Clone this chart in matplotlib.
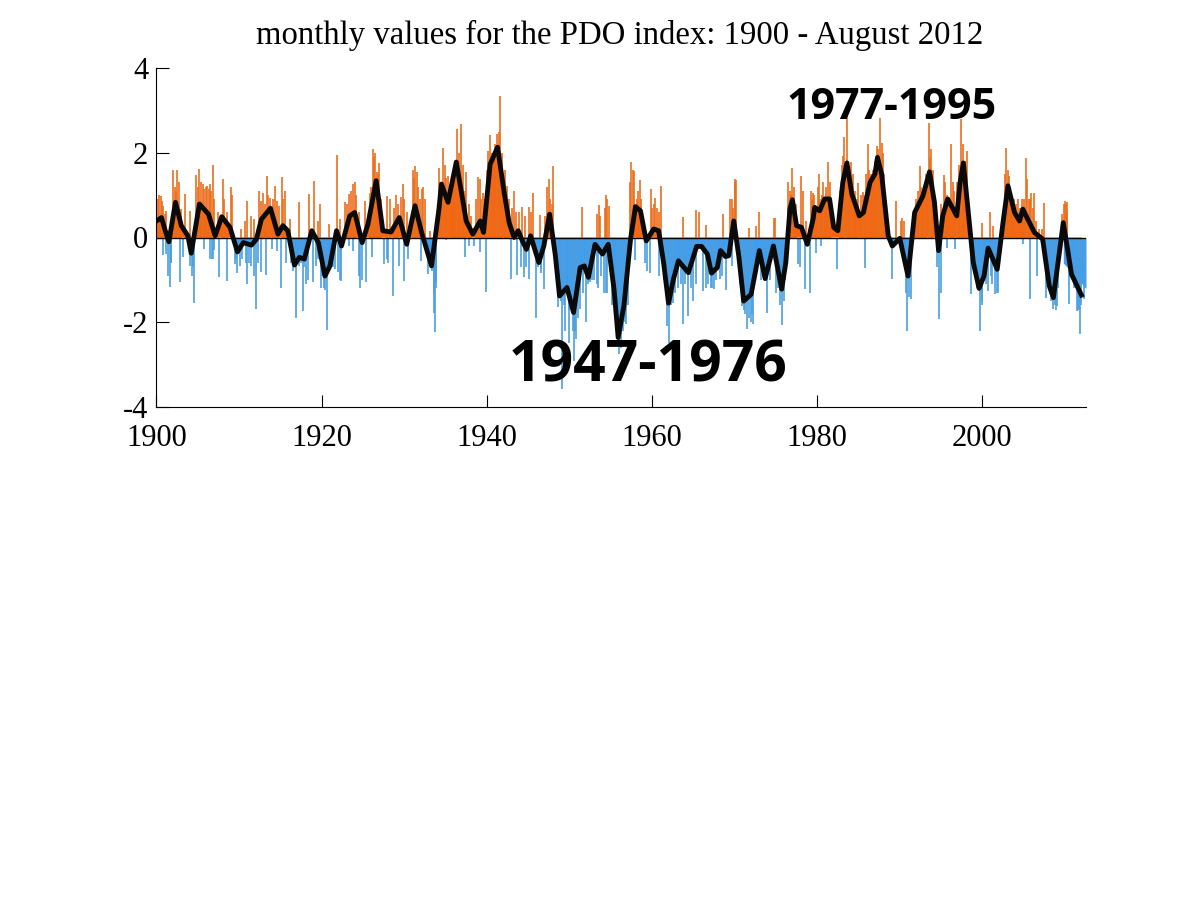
#!/usr/bin/env python3

import matplotlib.pyplot as plt
import numpy as np

plt.rcParams['font.family'] = ['Liberation Serif', 'DejaVu Serif']

# smoothed index
smooth_years = [1900.0, 1900.6, 1901.0, 1901.5, 1902.3, 1903.0, 1903.8, 1904.2, 1905.2, 1906.3, 1907.1, 1907.9,
                1908.9, 1909.8, 1910.5, 1911.5, 1912.1, 1912.7, 1913.8, 1914.7, 1915.3, 1915.9, 1916.7, 1917.3,
                1917.9, 1918.8, 1919.6, 1920.4, 1921.0, 1921.8, 1922.4, 1923.4, 1924.0, 1924.9, 1925.6, 1926.6,
                1927.4, 1928.4, 1929.4, 1930.3, 1931.3, 1932.1, 1933.3, 1934.2, 1934.5, 1935.3, 1936.3, 1937.2,
                1937.5, 1938.3, 1939.2, 1939.6, 1940.4, 1941.3, 1942.1, 1942.7, 1943.3, 1943.8, 1944.3, 1944.8,
                1945.3, 1946.3, 1946.9, 1947.6, 1948.3, 1948.8, 1949.7, 1950.5, 1951.3, 1951.8, 1952.3, 1953.1,
                1954.0, 1954.7, 1955.4, 1955.9, 1956.6, 1957.4, 1958.0, 1958.6, 1959.3, 1960.2, 1960.8, 1961.4,
                1962.0, 1962.6, 1963.2, 1964.4, 1965.4, 1966.0, 1966.7, 1967.2, 1967.9, 1968.3, 1968.9, 1969.3,
                1969.9, 1970.5, 1971.1, 1972.0, 1973.0, 1973.7, 1974.7, 1975.7, 1976.2, 1976.7, 1977.0, 1977.5,
                1978.1, 1978.8, 1979.5, 1979.7, 1980.3, 1980.9, 1981.5, 1982.0, 1982.5, 1983.1, 1983.6, 1984.2,
                1985.1, 1985.6, 1986.4, 1987.0, 1987.3, 1987.8, 1988.6, 1989.1, 1990.0, 1991.0, 1991.8, 1992.8,
                1993.6, 1994.2, 1994.7, 1995.2, 1995.8, 1996.9, 1997.3, 1997.7, 1998.3, 1998.9, 1999.6, 2000.2,
                2000.7, 2001.8, 2002.5, 2003.1, 2003.9, 2004.5, 2004.9, 2005.5, 2006.3, 2007.3, 2008.1, 2008.6,
                2009.8, 2010.8, 2012.0]
smooth_vals = [0.39, 0.47, 0.20, -0.10, 0.83, 0.28, 0.04, -0.37, 0.79, 0.55, 0.04, 0.49,
               0.24, -0.34, -0.12, -0.18, -0.04, 0.43, 0.69, 0.08, 0.28, 0.16, -0.65, -0.47,
               -0.51, 0.16, -0.12, -0.91, -0.67, 0.16, -0.20, 0.51, 0.59, -0.12, 0.31, 1.34,
               0.16, 0.13, 0.47, -0.16, 0.75, 0.12, -0.67, 0.67, 1.26, 0.83, 1.78, 0.75,
               0.39, 0.08, 0.39, 0.12, 1.73, 2.13, 1.06, 0.35, 0.0, 0.16, -0.08, -0.28,
               0.04, -0.59, -0.20, 0.55, -0.43, -1.38, -1.18, -1.77, -0.71, -0.67, -0.94, -0.16,
               -0.39, -0.16, -1.22, -2.36, -1.61, -0.04, 0.73, 0.63, -0.08, 0.20, 0.16, -0.59,
               -1.55, -0.98, -0.55, -0.83, -0.21, -0.21, -0.39, -0.84, -0.71, -0.31, -0.45, -0.43,
               0.39, -0.43, -1.50, -1.34, -0.31, -0.97, -0.20, -1.22, -0.59, 0.67, 0.89, 0.28,
               0.24, -0.16, 0.43, 0.71, 0.63, 0.91, 0.91, 0.24, 0.16, 1.30, 1.76, 1.02,
               0.51, 0.59, 1.30, 1.50, 1.89, 1.50, 0.04, -0.20, -0.02, -0.91, 0.59, 0.98,
               1.55, 0.83, -0.31, 0.51, 0.91, 0.51, 1.30, 1.76, 0.59, -0.59, -1.20, -0.91,
               -0.25, -0.75, 0.35, 1.22, 0.59, 0.39, 0.67, 0.43, 0.12, -0.04, -1.14, -1.42,
               0.35, -0.87, -1.36]

# tall monthly spikes above zero
pos_years = [1900.0, 1900.5, 1900.8, 1901.2, 1902.0, 1902.5, 1903.0, 1903.5, 1904.0, 1904.8, 1905.2, 1905.6,
             1906.1, 1906.5, 1906.8, 1907.5, 1908.0, 1908.5, 1909.0, 1910.2, 1910.7, 1910.9, 1911.5, 1911.8,
             1912.4, 1912.9, 1913.4, 1913.7, 1914.3, 1914.8, 1915.2, 1915.5, 1916.2, 1917.3, 1918.5, 1919.1,
             1919.6, 1919.8, 1920.9, 1921.8, 1922.2, 1922.8, 1923.3, 1923.8, 1924.0, 1924.5, 1925.3, 1925.9,
             1926.2, 1926.5, 1927.0, 1927.9, 1928.3, 1929.0, 1929.8, 1930.3, 1931.0, 1931.3, 1931.5, 1932.1,
             1932.3, 1933.1, 1934.2, 1934.7, 1935.3, 1936.4, 1936.9, 1937.5, 1937.8, 1938.95, 1939.2, 1939.5,
             1940.2, 1940.4, 1941.25, 1941.65, 1942.5, 1943.3, 1943.9, 1944.3, 1945.15, 1945.55, 1946.4, 1947.3,
             1947.5, 1948.0, 1951.5, 1953.35, 1953.55, 1954.4, 1954.8, 1957.5, 1957.8, 1958.5, 1959.9, 1960.4,
             1961.1, 1963.7, 1965.3, 1965.7, 1966.5, 1968.6, 1969.5, 1970.0, 1970.2, 1971.7, 1972.6, 1972.9,
             1974.8, 1974.9, 1976.5, 1977.0, 1978.1, 1979.2, 1979.5, 1980.2, 1980.7, 1981.3, 1983.1, 1983.3,
             1983.55, 1984.1, 1985.0, 1985.5, 1986.1, 1987.2, 1987.6, 1987.8, 1989.5, 1990.3, 1992.4, 1993.0,
             1993.5, 1993.8, 1995.3, 1996.25, 1996.9, 1997.45, 1998.15, 2000.0, 2000.9, 2001.3, 2002.9, 2003.2,
             2004.3, 2005.25, 2005.4, 2005.9, 2006.3, 2007.5, 2009.6, 2010.0, 2010.2]
pos_vals = [1.34, 0.98, 0.75, 0.63, 1.59, 1.59, 0.67, 1.02, 0.63, 1.47, 1.61, 1.26,
            1.22, 1.26, 1.71, 0.59, 1.38, 0.59, 1.18, 0.20, 0.39, 0.87, 0.51, 0.43,
            1.10, 1.05, 1.46, 0.94, 1.22, 0.75, 1.43, 1.10, 0.43, 0.84, 1.02, 1.34,
            0.39, 0.79, 0.31, 1.94, 0.43, 0.84, 1.02, 1.26, 1.30, 0.59, 0.87, 1.06,
            2.10, 2.00, 1.76, 0.98, 0.91, 1.00, 1.26, 0.59, 1.60, 1.69, 1.54, 1.14,
            1.18, 0.16, 1.65, 2.11, 1.46, 2.57, 2.68, 1.55, 0.79, 1.42, 1.38, 1.06,
            2.05, 2.42, 2.44, 3.35, 1.22, 1.09, 0.59, 0.73, 0.73, 1.05, 0.53, 1.18,
            1.38, 1.69, 0.71, 0.55, 0.76, 1.00, 0.75, 1.77, 1.57, 1.35, 1.14, 0.93,
            1.22, 0.49, 0.65, 0.61, 0.29, 0.55, 0.91, 1.39, 1.36, 0.22, 0.26, 0.59,
            0.46, 0.46, 1.30, 1.65, 1.46, 1.10, 1.06, 1.50, 1.30, 1.77, 1.93, 2.36,
            2.95, 1.77, 1.28, 1.08, 2.20, 2.17, 2.83, 2.24, 0.85, 0.45, 1.69, 1.30,
            2.70, 2.09, 1.47, 2.20, 1.30, 2.80, 2.03, 0.35, 0.61, 0.28, 2.11, 1.46,
            0.91, 1.87, 1.38, 1.04, 1.06, 0.81, 0.55, 0.85, 0.83]

# tall monthly spikes below zero
neg_years = [1900.8, 1901.6, 1901.8, 1902.9, 1903.2, 1904.1, 1904.5, 1905.8, 1906.5, 1906.9, 1907.6, 1908.5,
             1909.5, 1909.7, 1910.1, 1910.8, 1911.0, 1911.5, 1912.0, 1912.6, 1913.2, 1914.0, 1914.6, 1915.1,
             1915.7, 1916.5, 1916.9, 1917.2, 1917.7, 1918.1, 1918.9, 1919.3, 1919.9, 1920.6, 1921.6, 1922.0,
             1922.4, 1923.3, 1923.8, 1924.7, 1925.4, 1926.1, 1927.6, 1928.6, 1929.4, 1930.0, 1930.4, 1932.0,
             1932.9, 1933.6, 1933.7, 1933.9, 1935.1, 1937.3, 1937.8, 1938.4, 1939.2, 1939.85, 1942.95, 1943.7,
             1944.5, 1945.1, 1945.9, 1946.5, 1946.9, 1948.6, 1949.1, 1949.5, 1950.0, 1950.6, 1950.85, 1951.3,
             1952.0, 1952.5, 1953.3, 1954.2, 1955.0, 1956.0, 1956.9, 1958.0, 1959.2, 1959.7, 1960.8, 1961.8,
             1962.0, 1962.6, 1963.8, 1964.4, 1965.0, 1966.2, 1967.5, 1968.2, 1969.0, 1969.7, 1970.9, 1971.5,
             1972.2, 1973.9, 1975.0, 1975.8, 1977.7, 1977.9, 1978.5, 1979.1, 1979.9, 1980.5, 1982.4, 1985.8,
             1989.0, 1990.9, 1991.4, 1994.8, 1995.7, 1996.7, 1998.6, 1999.75, 2000.7, 2001.5, 2001.8, 2004.9,
             2005.8, 2006.6, 2007.7, 2008.5, 2009.0, 2010.5, 2011.4, 2011.85, 2012.3]
neg_vals = [-0.42, -1.16, -0.59, -1.06, -0.47, -0.67, -1.54, -0.28, -0.51, -0.50, -0.94, -1.02,
            -0.63, -0.84, -0.67, -0.59, -1.10, -0.67, -1.68, -0.81, -0.89, -0.28, -0.31, -1.20,
            -0.59, -0.79, -1.91, -0.67, -1.73, -1.10, -1.05, -0.67, -1.18, -2.18, -0.75, -0.81,
            -1.02, -0.20, -0.31, -1.20, -1.05, -0.47, -0.63, -1.38, -0.67, -1.02, -0.51, -0.55,
            -0.87, -1.77, -2.24, -1.06, -0.06, -0.45, -0.20, -0.20, -0.35, -1.28, -0.98, -0.89,
            -0.94, -0.98, -1.91, -0.83, -1.22, -1.65, -3.57, -2.20, -2.48, -2.91, -2.40, -1.69,
            -1.99, -1.06, -1.10, -1.30, -0.59, -2.76, -2.05, -0.53, -0.59, -0.83, -0.91, -2.08,
            -2.48, -1.54, -2.05, -1.85, -1.50, -1.26, -1.22, -0.98, -1.24, -0.67, -1.61, -2.17,
            -2.05, -1.77, -1.30, -2.07, -0.63, -0.69, -1.22, -1.30, -0.37, -0.20, -0.75, -0.73,
            -0.98, -2.20, -1.45, -1.93, -0.24, -0.28, -1.34, -2.20, -1.26, -1.34, -1.30, -0.16,
            -1.46, -0.91, -1.42, -1.69, -1.61, -1.57, -1.73, -2.28, -1.45]

# shorter bars packed between the tall ones
pos_dense_years = [1900.2, 1900.35, 1900.65, 1901.0, 1902.2, 1902.35, 1902.7, 1902.85, 1905.0, 1905.4, 1905.75,
                   1905.95, 1906.3, 1906.65, 1907.0, 1908.2, 1909.15, 1912.6, 1913.1, 1913.55, 1914.05, 1914.55,
                   1915.35, 1923.1, 1923.55, 1924.2, 1926.0, 1926.35, 1926.7, 1926.85, 1927.2, 1928.7, 1929.2,
                   1929.6, 1930.0, 1931.15, 1931.7, 1931.85, 1932.5, 1934.4, 1934.9, 1935.1, 1935.6, 1935.9,
                   1936.1, 1936.65, 1937.1, 1937.3, 1938.1, 1938.7, 1939.35, 1939.8, 1940.0, 1940.6, 1940.8,
                   1941.0, 1941.45, 1941.85, 1942.2, 1942.7, 1943.1, 1943.5, 1944.6, 1945.35, 1947.1, 1947.7,
                   1947.85, 1953.7, 1954.25, 1954.55, 1957.35, 1957.65, 1958.2, 1958.35, 1958.7, 1960.0, 1960.25,
                   1960.6, 1960.9, 1969.7, 1969.85, 1970.1, 1976.7, 1976.8, 1977.2, 1977.4, 1978.3, 1978.7,
                   1979.35, 1979.65, 1979.9, 1980.05, 1980.4, 1980.55, 1980.9, 1981.05, 1981.5, 1982.8, 1983.0,
                   1983.7, 1983.9, 1984.3, 1984.55, 1984.8, 1985.3, 1985.7, 1985.9, 1986.3, 1986.5, 1986.75,
                   1987.05, 1987.4, 1987.95, 1988.1, 1988.3, 1990.1, 1990.5, 1992.0, 1992.2, 1992.6, 1992.8,
                   1993.2, 1993.65, 1994.0, 1995.05, 1995.5, 1995.7, 1996.05, 1996.4, 1996.6, 1997.15, 1997.65,
                   1997.85, 1998.0, 2002.7, 2003.05, 2003.4, 2003.6, 2003.8, 2004.1, 2004.6, 2004.8, 2005.1,
                   2005.6, 2005.75, 2006.1, 2006.5, 2006.9, 2007.2, 2009.9, 2010.1, 2010.3]
pos_dense_vals = [0.9, 1.0, 0.85, 0.55, 1.2, 1.1, 1.3, 0.6, 1.2, 1.3, 1.15,
                  1.2, 1.15, 1.1, 0.9, 0.9, 1.0, 0.85, 0.8, 1.0, 0.9, 0.85,
                  0.9, 0.8, 1.1, 1.0, 1.2, 1.9, 1.55, 1.5, 0.9, 0.7, 0.8,
                  0.95, 0.9, 1.4, 1.2, 0.9, 0.9, 1.3, 1.7, 1.4, 1.1, 1.4,
                  1.8, 2.0, 1.7, 1.1, 0.5, 0.9, 0.9, 0.9, 1.6, 2.0, 1.6,
                  2.2, 2.5, 2.0, 1.6, 0.9, 0.7, 0.6, 0.5, 0.6, 0.5, 0.9,
                  0.8, 0.5, 0.7, 0.9, 1.3, 1.6, 0.9, 1.1, 0.9, 0.7, 0.8,
                  0.7, 0.6, 0.9, 0.7, 1.3, 1.1, 1.0, 1.2, 0.8, 1.1, 0.4,
                  0.9, 1.0, 0.7, 1.2, 0.9, 1.0, 0.9, 1.2, 1.3, 1.1, 1.7,
                  1.8, 1.6, 1.5, 1.1, 0.9, 1.0, 1.0, 1.5, 1.6, 1.5, 1.6,
                  1.8, 2.1, 2.0, 1.5, 0.8, 0.4, 0.4, 0.9, 1.1, 1.2, 1.1,
                  1.5, 1.9, 1.6, 0.8, 1.3, 1.0, 0.9, 1.3, 1.1, 1.7, 2.2,
                  1.8, 1.4, 1.5, 1.6, 1.2, 0.8, 0.9, 0.8, 0.7, 0.9, 0.9,
                  0.9, 0.9, 0.7, 0.4, 0.2, 0.2, 0.8, 0.8, 0.6]

neg_dense_years = [1901.1, 1901.4, 1901.7, 1904.3, 1904.4, 1906.7, 1907.0, 1909.6, 1910.3, 1911.2, 1911.8, 1912.3,
                   1916.3, 1916.75, 1917.5, 1917.9, 1918.3, 1919.6, 1920.1, 1920.25, 1920.45, 1920.8, 1921.2,
                   1921.4, 1922.2, 1924.5, 1924.85, 1927.9, 1928.0, 1933.4, 1933.55, 1933.85, 1944.1, 1944.7,
                   1946.2, 1946.6, 1948.95, 1949.3, 1949.9, 1950.2, 1950.4, 1950.7, 1951.05, 1951.2, 1951.6,
                   1952.2, 1952.7, 1953.0, 1953.5, 1953.8, 1954.4, 1954.6, 1955.2, 1955.7, 1956.2, 1956.5,
                   1956.7, 1957.1, 1959.45, 1961.5, 1961.65, 1962.3, 1962.8, 1963.2, 1963.55, 1964.0, 1964.7,
                   1965.3, 1966.5, 1966.75, 1967.1, 1967.3, 1967.7, 1968.5, 1970.7, 1971.1, 1971.3, 1971.75,
                   1971.95, 1972.15, 1973.2, 1973.5, 1974.3, 1975.3, 1975.55, 1975.95, 1976.05, 1990.7, 1991.1,
                   1994.5, 1995.0, 1999.2, 1999.4, 1999.9, 2000.0, 2000.4, 2001.0, 2001.2, 2001.9, 2007.9,
                   2008.3, 2008.75, 2008.95, 2009.2, 2010.7, 2011.1, 2011.6, 2011.75, 2012.0, 2012.45]
neg_dense_vals = [-0.4, -0.9, -0.6, -0.9, -0.7, -0.5, -0.3, -0.5, -0.5, -0.6, -0.9, -0.6,
                  -0.6, -0.7, -0.6, -0.7, -1.0, -0.5, -0.9, -1.2, -1.25, -0.8, -0.7,
                  -0.7, -1.0, -0.9, -1.0, -0.5, -0.6, -0.8, -1.3, -1.2, -0.7, -0.7,
                  -0.7, -0.75, -1.5, -1.6, -1.7, -1.6, -2.2, -2.2, -1.9, -1.2, -1.3,
                  -1.1, -1.0, -1.0, -1.2, -0.9, -1.3, -1.3, -1.6, -2.4, -2.6, -2.2,
                  -2.0, -1.6, -0.8, -1.0, -1.2, -1.6, -1.3, -1.2, -1.1, -1.1, -1.2,
                  -1.1, -1.2, -1.1, -1.2, -1.2, -1.0, -0.9, -1.1, -1.7, -1.8, -1.9,
                  -2.0, -1.8, -1.0, -1.0, -1.0, -1.2, -1.6, -1.5, -1.0, -1.3, -1.4,
                  -0.7, -1.3, -1.0, -1.2, -1.6, -1.5, -1.1, -0.9, -1.1, -1.3, -1.0,
                  -1.5, -1.6, -1.7, -1.2, -0.9, -1.2, -1.7, -1.7, -1.6, -1.2]

x_ticks = [1900, 1920, 1940, 1960, 1980, 2000]
y_ticks = [-4, -2, 0, 2, 4]

fig = plt.figure(figsize=(12, 9.01), dpi=100)
ax = fig.add_axes([156.5 / 1200, 1 - 407 / 901, (1086 - 156.5) / 1200, (407 - 68) / 901])

# solid part of the bars follows the smoothed curve
t = np.array(smooth_years)
v = np.array(smooth_vals)
ax.fill_between(t, 0, v, where=v >= 0, interpolate=True, color='#FF6208', lw=0)
ax.fill_between(t, 0, v, where=v <= 0, interpolate=True, color='#3E9DF0', lw=0)
ax.fill_between([2009.8, 2012.55], 0, [-0.6, -1.2], color='#3E9DF0', lw=0)

ax.vlines(pos_dense_years, 0, pos_dense_vals, color='#F0691A', lw=1.2)
ax.vlines(neg_dense_years, 0, neg_dense_vals, color='#4A9FE2', lw=1.2)
ax.vlines(pos_years, 0, pos_vals, color='#E8701C', lw=1.2)
ax.vlines(neg_years, 0, neg_vals, color='#4A9FE2', lw=1.2)
ax.axhline(0, color='black', lw=1.0)
ax.plot(smooth_years, smooth_vals, color='#0A0A0A', lw=3.5, solid_joinstyle='round')

ax.set_xlim(1900, 2012.55)
ax.set_ylim(-4, 4)
ax.set_xticks(x_ticks)
ax.set_yticks(y_ticks)
ax.set_yticklabels(['-4', '-2', '0', '2', '4'])
ax.tick_params(direction='in', length=9, width=0.8, labelsize=22, pad=6)
ax.tick_params(axis='x', pad=12)
for side in ['top', 'right']:
    ax.spines[side].set_visible(False)

ax.set_title('monthly values for the PDO index: 1900 - August 2012', fontsize=23.6, pad=17, x=0.4985)

ax.text(1959.5, -3.05, '1947-1976', family='Open Sans', weight='bold', fontsize=41,
        ha='center', va='center', color='black')
ax.text(1989.0, 3.07, '1977-1995', family='Open Sans', weight='bold', fontsize=31,
        ha='center', va='center', color='black')

fig.savefig('out.png', dpi=100)
